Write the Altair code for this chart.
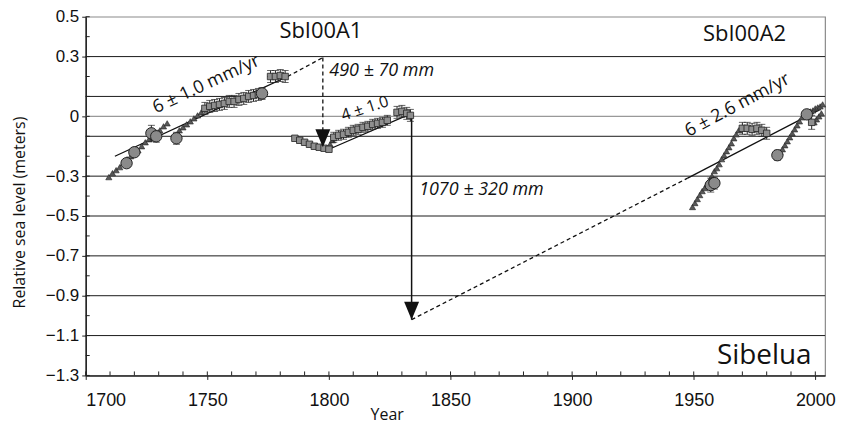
import altair as alt
import pandas as pd

# ---------------- data ----------------
tri_a_year = [1709.5, 1711, 1712.5, 1714, 1715.5, 1717, 1718.5, 1720, 1721.5, 1723,
              1724.5, 1726, 1727.5, 1729, 1730.5, 1732, 1733.5]
tri_a_val = [-0.305, -0.285, -0.27, -0.255, -0.235, -0.215, -0.2, -0.185, -0.17, -0.15,
             -0.13, -0.115, -0.1, -0.085, -0.07, -0.05, -0.035]
tri_b_year = [1738.5, 1740, 1741.5, 1743, 1744.5, 1746, 1747.5, 1749, 1750.5]
tri_b_val = [-0.07, -0.055, -0.04, -0.025, -0.01, 0.005, 0.02, 0.035, 0.045]
tri_c_year = [1800.5, 1801.5]
tri_c_val = [-0.14, -0.12]
tri_d_year = [1949.5, 1950.5, 1951.5, 1952.5, 1953.5, 1954.5, 1955.5, 1956.5, 1957.5, 1958.5,
              1959.5, 1960.5, 1961.5, 1962.5, 1963.5, 1964.5, 1965.5, 1966.5, 1967.5, 1968.5]
tri_d_val = [-0.455, -0.435, -0.415, -0.395, -0.375, -0.36, -0.34, -0.32, -0.3, -0.275,
             -0.26, -0.24, -0.215, -0.195, -0.175, -0.155, -0.135, -0.11, -0.09, -0.07]
tri_e_year = [1985.5, 1986.5, 1987.5, 1988.5, 1989.5, 1990.5, 1991.5, 1992.5, 1993.5, 1994.5, 1995.5]
tri_e_val = [-0.18, -0.165, -0.145, -0.125, -0.105, -0.085, -0.065, -0.045, -0.025, -0.005, 0.015]
tri_f_year = [1997, 1998, 1999, 2000, 2001, 2002, 2003]
tri_f_val = [0.015, 0.025, 0.03, 0.04, 0.045, 0.05, 0.06]
tri_g_year = [1999.5, 2000.5, 2001.5, 2002.5]
tri_g_val = [-0.03, -0.015, 0.0, 0.015]

sqe_year = [1749, 1751, 1753, 1755, 1757, 1759, 1761, 1763, 1765, 1767, 1769, 1771,
            1776, 1778, 1780, 1782,
            1802, 1804, 1806, 1808, 1810, 1812, 1814, 1816, 1818, 1820, 1822, 1824,
            1828, 1830, 1832, 1833.5,
            1970, 1972, 1974, 1976, 1978, 1980, 1998.5]
sqe_val = [0.04, 0.05, 0.055, 0.06, 0.065, 0.075, 0.075, 0.085, 0.09, 0.1, 0.105, 0.11,
           0.2, 0.2, 0.205, 0.2,
           -0.105, -0.095, -0.09, -0.08, -0.07, -0.065, -0.055, -0.05, -0.04, -0.035, -0.03, -0.02,
           0.02, 0.025, 0.015, 0.005,
           -0.06, -0.06, -0.065, -0.06, -0.07, -0.085, -0.03]
sqe_err = [0.03, 0.03, 0.03, 0.03, 0.03, 0.03, 0.03, 0.03, 0.03, 0.03, 0.03, 0.03,
           0.03, 0.03, 0.03, 0.03,
           0.025, 0.025, 0.025, 0.025, 0.025, 0.025, 0.025, 0.025, 0.025, 0.025, 0.025, 0.025,
           0.03, 0.03, 0.03, 0.03,
           0.03, 0.03, 0.03, 0.03, 0.03, 0.03, 0.035]

sq_year = [1786, 1788, 1790, 1792, 1794, 1796, 1798, 1800]
sq_val = [-0.11, -0.12, -0.13, -0.14, -0.15, -0.155, -0.16, -0.165]

circ_year = [1716.8, 1720, 1727, 1729, 1737.3, 1772.5, 1957, 1958.5, 1984.4, 1996.5]
circ_val = [-0.235, -0.18, -0.085, -0.1, -0.11, 0.115, -0.345, -0.335, -0.195, 0.01]
circ_err = [0.02, 0.015, 0.04, 0.03, 0.03, 0.03, 0.035, 0.03, 0.025, 0.02]

fit_solid_x1 = [1712, 1801, 1947.5]
fit_solid_y1 = [-0.2, -0.16, -0.31]
fit_solid_x2 = [1783, 1834, 2002]
fit_solid_y2 = [0.2, 0.015, 0.035]
fit_dash_x1 = [1783, 1834]
fit_dash_y1 = [0.2, -1.02]
fit_dash_x2 = [1797.5, 1947.5]
fit_dash_y2 = [0.295, -0.31]

arrow_x = [1797.5, 1834]
arrow_top = [0.295, 0.005]
arrow_tip = [-0.155, -1.02]
arrow_dashed = [True, False]

x_major = [1700, 1750, 1800, 1850, 1900, 1950, 2000]
x_minor = list(range(1700, 2001, 10))
y_labels = [0.5, 0.3, 0, -0.3, -0.5, -0.7, -0.9, -1.1, -1.3]
y_minor = [0.4, 0.2, 0.1, -0.1, -0.2, -0.4, -0.6, -0.8, -1.0, -1.2]
grid_black = [0.3, 0.1, -0.1, -0.3, -0.5, -0.7, -0.9, -1.1]
grid_gray = [0]

# ---------------- chart ----------------
W, H = 742, 360
xs = alt.Scale(domain=[1700, 2004], nice=False, zero=False)
ys = alt.Scale(domain=[-1.3, 0.5], nice=False, zero=False)
LAB_FONT = "Liberation Sans"
TXT_FONT = "Open Sans"

X_AXIS = alt.Axis(
    values=x_major, format="d", title="Year", grid=False, tickSize=4, tickColor="#222", tickWidth=1,
    domainColor="#222", domainWidth=1.5, labelFont=LAB_FONT, labelFontSize=18, labelColor="#111",
    labelPadding=12, titleFont=TXT_FONT, titleFontSize=16, titleFontWeight="normal", titleColor="#111",
    titleX=302, titleY=31, titleAlign="center", titleBaseline="top")
Y_AXIS = alt.Axis(
    values=y_labels, title="Relative sea level (meters)", grid=False, tickSize=4, tickColor="#222",
    tickWidth=1, domainColor="#222", domainWidth=1.5, labelFont=LAB_FONT, labelFontSize=17,
    labelColor="#111", labelPadding=3, format=".1~f",
    titleFont=TXT_FONT, titleFontSize=16, titleFontWeight="normal", titleColor="#111",
    titleX=-66, titleY=196, titleAngle=270, titleAlign="center", titleBaseline="middle")


def X(f="year"):
    return alt.X(f"{f}:Q", scale=xs, axis=X_AXIS)


def Y(f="val"):
    return alt.Y(f"{f}:Q", scale=ys, axis=Y_AXIS)


tri_df = pd.DataFrame({
    "year": tri_a_year + tri_b_year + tri_c_year + tri_d_year + tri_e_year + tri_f_year + tri_g_year,
    "val": tri_a_val + tri_b_val + tri_c_val + tri_d_val + tri_e_val + tri_f_val + tri_g_val,
})
sqe_df = pd.DataFrame({"year": sqe_year, "val": sqe_val, "err": sqe_err})
sqe_df["lo"] = sqe_df["val"] - sqe_df["err"]
sqe_df["hi"] = sqe_df["val"] + sqe_df["err"]
sqe_df["xl"] = sqe_df["year"] - 1.3
sqe_df["xr"] = sqe_df["year"] + 1.3
sq_df = pd.DataFrame({"year": sq_year, "val": sq_val})
circ_df = pd.DataFrame({"year": circ_year, "val": circ_val, "err": circ_err})
circ_df["lo"] = circ_df["val"] - circ_df["err"]
circ_df["hi"] = circ_df["val"] + circ_df["err"]

grid_b = alt.Chart(pd.DataFrame({"v": grid_black})).mark_rule(color="#1a1a1a", strokeWidth=1).encode(y=Y("v"))
grid_g = alt.Chart(pd.DataFrame({"v": grid_gray})).mark_rule(color="#999999", strokeWidth=1.2).encode(y=Y("v"))

xminor = alt.Chart(pd.DataFrame({"year": x_minor})).mark_rule(color="#222", strokeWidth=1).encode(
    x=X("year"), y=alt.value(H), y2=alt.value(H - 4))
yminor = alt.Chart(pd.DataFrame({"v": y_minor + y_labels})).mark_rule(color="#222", strokeWidth=1).encode(
    y=Y("v"), x=alt.value(0), x2=alt.value(4))

fs_df = pd.DataFrame({"x1": fit_solid_x1, "y1": fit_solid_y1, "x2": fit_solid_x2, "y2": fit_solid_y2})
fd_df = pd.DataFrame({"x1": fit_dash_x1, "y1": fit_dash_y1, "x2": fit_dash_x2, "y2": fit_dash_y2})
fit_s = alt.Chart(fs_df).mark_rule(color="#111", strokeWidth=1.3).encode(
    x=X("x1"), y=Y("y1"), x2="x2:Q", y2="y2:Q")
fit_d = alt.Chart(fd_df).mark_rule(color="#111", strokeWidth=1.3, strokeDash=[4, 3]).encode(
    x=X("x1"), y=Y("y1"), x2="x2:Q", y2="y2:Q")

arr_df = pd.DataFrame({"x": arrow_x, "top": arrow_top, "tip": arrow_tip, "dashed": arrow_dashed})
arr_d = alt.Chart(arr_df[arr_df["dashed"]]).mark_rule(color="#111", strokeWidth=1.3, strokeDash=[4, 3]).encode(
    x=X("x"), y=Y("top"), y2="tip:Q")
arr_s = alt.Chart(arr_df[~arr_df["dashed"]]).mark_rule(color="#111", strokeWidth=1.5).encode(
    x=X("x"), y=Y("top"), y2="tip:Q")
heads = alt.Chart(arr_df).mark_point(
    shape="M-1,-2.4L1,-2.4L0,0Z", filled=True, size=225, color="#111", opacity=1
).encode(x=X("x"), y=Y("tip"))

tri = alt.Chart(tri_df).mark_point(
    shape="triangle-up", filled=True, size=38, color="#585858", stroke="#222", strokeWidth=0.6, opacity=1
).encode(x=X("year"), y=Y("val"))


def ebar(df, horizontal=False):
    stem = alt.Chart(df).mark_rule(color="#222", strokeWidth=1).encode(x=X("year"), y=Y("lo"), y2="hi:Q")
    cap_lo = alt.Chart(df).mark_tick(color="#222", thickness=1, size=7, orient="horizontal").encode(
        x=X("year"), y=Y("lo"))
    cap_hi = alt.Chart(df).mark_tick(color="#222", thickness=1, size=7, orient="horizontal").encode(
        x=X("year"), y=Y("hi"))
    out = [stem, cap_lo, cap_hi]
    if horizontal:
        out.append(alt.Chart(df).mark_rule(color="#222", strokeWidth=1).encode(
            x=X("xl"), x2="xr:Q", y=Y("val")))
    return out


sqe_pts = alt.Chart(sqe_df).mark_square(size=42, fill="#8f8f8f", stroke="#222", strokeWidth=0.8, opacity=1).encode(
    x=X("year"), y=Y("val"))
sq_pts = alt.Chart(sq_df).mark_square(size=42, fill="#8f8f8f", stroke="#222", strokeWidth=0.8, opacity=1).encode(
    x=X("year"), y=Y("val"))
circ_pts = alt.Chart(circ_df).mark_circle(size=130, fill="#8a8a8a", stroke="#222", strokeWidth=1, opacity=1).encode(
    x=X("year"), y=Y("val"))


def label(text, year, val, size, angle=0, italic=False, align="center"):
    kw = dict(text=text, font=TXT_FONT, fontSize=size, color="#111", align=align, baseline="middle")
    if angle:
        kw["angle"] = angle
    if italic:
        kw["fontStyle"] = "italic"
    return alt.Chart(pd.DataFrame({"year": [year], "val": [val]})).mark_text(**kw).encode(
        x=X("year"), y=Y("val"))


labels = [
    label("SbI00A1", 1796.7, 0.43, 22),
    label("SbI00A2", 1970.9, 0.415, 22),
    label("Sibelua", 1979, -1.205, 28),
    label("490 ± 70 mm", 1821.7, 0.23, 18, italic=True),
    label("1070 ± 320 mm", 1862.7, -0.37, 18, italic=True),
    label("6 ± 1.0 mm/yr", 1749.6, 0.16, 18, angle=335),
    label("4 ± 1.0", 1814.8, 0.04, 16, angle=342),
    label("6 ± 2.6 mm/yr", 1968.0, 0.055, 18, angle=332),
]

chart = alt.layer(
    grid_b, grid_g, xminor, yminor, fit_s, fit_d, arr_d, arr_s,
    tri, sq_pts, *ebar(sqe_df, horizontal=True), sqe_pts, *ebar(circ_df), circ_pts, heads, *labels
).properties(
    width=W, height=H,
    padding={"left": 78, "top": 8, "right": 14, "bottom": 50},
    autosize=alt.AutoSizeParams(type="none"),
    background="white",
).configure_view(stroke="#8a8a8a", strokeWidth=1.2)

chart.save("out.html", embed_options={"renderer": "svg", "actions": False})
